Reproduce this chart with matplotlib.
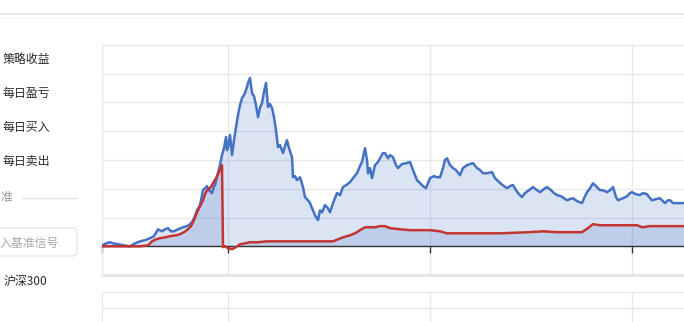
import matplotlib
matplotlib.use("Agg")
import matplotlib.pyplot as plt
from matplotlib.lines import Line2D
from matplotlib.patches import FancyBboxPatch
from matplotlib.transforms import IdentityTransform

plt.rcParams["font.family"] = ["Noto Sans CJK SC", "DejaVu Sans"]

# strategy return (%) by trading day
strat_days = [0, 4, 8, 11, 16, 22, 28, 33, 38, 43, 48, 52, 56, 60, 63, 66, 69, 72, 76, 81,
              85, 88, 90, 93, 95, 98, 101, 103, 105, 107, 110, 112, 113, 115, 118, 120, 122, 124, 125, 126,
              128, 130, 132, 134, 136, 138, 140, 142, 143, 145, 146, 148, 150, 152, 154, 156, 158, 160, 162, 164,
              166, 168, 170, 172, 174, 176, 178, 181, 183, 185, 187, 190, 191, 193, 195, 198, 201, 203, 206, 208,
              211, 213, 216, 218, 220, 223, 226, 228, 231, 235, 238, 241, 244, 248, 251, 255, 258, 260, 263, 265,
              266, 268, 270, 273, 276, 278, 281, 283, 286, 288, 291, 294, 296, 300, 304, 308, 311, 315, 318, 321,
              324, 328, 332, 335, 338, 341, 343, 345, 348, 351, 354, 358, 361, 365, 368, 371, 375, 378, 381, 385,
              390, 393, 395, 398, 402, 405, 408, 411, 414, 417, 420, 423, 427, 431, 435, 438, 442, 445, 449, 452,
              455, 459, 462, 465, 468, 471, 475, 478, 480, 483, 485, 488, 491, 494, 498, 501, 505, 508, 511, 514,
              516, 519, 521, 525, 528, 530, 534, 538, 541, 545, 548, 550, 554, 558, 561, 563, 566, 568, 571, 576,
              582]
strat_ret = [3, 10, 14, 10, 7, 3, 0, 10, 17, 21, 28, 35, 59, 52, 59, 63, 52, 52, 59, 66,
             70, 77, 84, 104, 125, 143, 195, 202, 209, 195, 185, 209, 212, 240, 282, 317, 341, 380, 334, 345,
             387, 317, 369, 414, 456, 491, 515, 526, 533, 554, 568, 585, 533, 522, 491, 449, 481, 498, 536, 568,
             484, 495, 481, 449, 404, 345, 352, 324, 348, 369, 341, 310, 240, 244, 230, 240, 206, 171, 160, 150,
             125, 108, 91, 125, 118, 143, 132, 118, 150, 185, 178, 206, 212, 223, 237, 254, 279, 293, 341, 300,
             254, 272, 237, 282, 293, 306, 324, 324, 306, 317, 310, 282, 272, 286, 289, 293, 265, 230, 220, 209,
             202, 237, 244, 240, 240, 272, 300, 306, 282, 272, 265, 247, 272, 282, 286, 289, 272, 265, 254, 254,
             258, 237, 230, 220, 209, 202, 209, 213, 195, 181, 171, 185, 195, 206, 195, 188, 199, 206, 195, 185,
             178, 174, 167, 160, 164, 167, 157, 153, 150, 174, 188, 202, 219, 209, 195, 195, 188, 195, 206, 171,
             160, 164, 167, 174, 185, 188, 181, 178, 185, 181, 167, 160, 164, 167, 157, 150, 160, 160, 150, 150,
             150]

# benchmark return (%) by trading day
bench_days = [0, 38, 46, 50, 54, 58, 63, 68, 74, 78, 82, 86, 89, 92, 95, 98, 101, 103, 105, 108,
              111, 114, 117, 119, 120, 121, 123, 126, 130, 134, 138, 143, 148, 156, 165, 178, 198, 218, 231, 236,
              241, 248, 253, 258, 263, 268, 273, 278, 283, 288, 298, 308, 318, 328, 338, 345, 358, 371, 398, 428,
              441, 455, 480, 486, 491, 498, 511, 523, 535, 540, 548, 582]
bench_ret = [0, 0, 3, 17, 24, 28, 31, 35, 38, 42, 49, 59, 70, 91, 118, 139, 160, 181, 195, 202,
             219, 237, 258, 275, 282, -3, 0, -7, -10, -3, 7, 10, 14, 14, 17, 17, 17, 17, 17, 24,
             31, 38, 45, 56, 66, 66, 66, 70, 70, 63, 59, 56, 56, 56, 52, 45, 45, 45, 45, 49,
             52, 49, 49, 63, 77, 73, 73, 73, 73, 66, 70, 70]

grid_days = [126, 328, 530]

W, H = 684, 322
fig = plt.figure(figsize=(W / 100, H / 100), dpi=100)


def fx(x):
    return x / W


def fy(y):
    return 1 - y / H


blue = "#4472c4"
red = "#c23531"
grid_c = "#e6e8eb"

# main chart panel
ax = fig.add_axes([fx(102), fy(275), fx(732), (275 - 45) / H])
ax.set_xlim(0, 732)
ax.set_ylim(-100, 700)
ax.fill_between(strat_days, 0, strat_ret, color=blue, alpha=0.19, lw=0, zorder=1)
ax.fill_between(bench_days, 0, bench_ret, color=blue, alpha=0.19, lw=0, zorder=1)
ax.plot(strat_days, strat_ret, color=blue, lw=1.8, zorder=4)
ax.plot(bench_days, bench_ret, color=red, lw=1.8, zorder=5)

ax.set_yticks(range(-100, 701, 100))
ax.set_xticks([0] + grid_days)
ax.grid(True, color=grid_c, lw=1, zorder=0)
ax.set_axisbelow(True)
ax.tick_params(axis="y", length=0, labelleft=False)
ax.tick_params(axis="x", length=5, width=1, color="#333333", labelbottom=False)
ax.spines["bottom"].set_position(("data", 0))
ax.spines["bottom"].set_color("#333333")
ax.spines["bottom"].set_linewidth(1)
ax.spines["bottom"].set_zorder(3)
ax.spines["top"].set_color(grid_c)
ax.spines["left"].set_color(grid_c)
ax.spines["right"].set_visible(False)
ax.axhline(-100, color="#e3e3e3", lw=2, clip_on=False, zorder=0)

# lower panel (cut off)
ax2 = fig.add_axes([fx(102), fy(292) - 48 / H, fx(732), 48 / H])
ax2.set_xlim(0, 732)
ax2.set_ylim(-2, 1)
ax2.set_yticks([0])
ax2.set_xticks(grid_days)
ax2.grid(True, color=grid_c, lw=1)
ax2.tick_params(length=0, labelleft=False, labelbottom=False)
for s in ["bottom", "right"]:
    ax2.spines[s].set_visible(False)
for s in ["top", "left"]:
    ax2.spines[s].set_color(grid_c)

# page separator at top
fig.add_artist(Line2D([0, 1], [fy(14), fy(14)], color="#e4e4e4", lw=1.5))
fig.add_artist(Line2D([0, 1], [fy(16.5), fy(16.5)], color="#f2f2f2", lw=1))

# left side labels
labels = ["策略收益", "每日盈亏", "每日买入", "每日卖出"]
label_y = [60, 93, 127, 161]
for t, y in zip(labels, label_y):
    fig.text(fx(3), fy(y), t, fontsize=8.6, color="#2b2b2b", ha="left", va="center")

fig.text(fx(0), fy(198), "准", fontsize=8.6, color="#999999", ha="left", va="center")
fig.add_artist(Line2D([fx(22), fx(77)], [fy(198), fy(198)], color="#e2e2e2", lw=1))

box = FancyBboxPatch((-6, H - 256), 83, 28, boxstyle="round,pad=0,rounding_size=4",
                     transform=IdentityTransform(), facecolor="white",
                     edgecolor="#dcdfe6", lw=0.8)
fig.add_artist(box)
fig.text(fx(0), fy(243), "入基准信号", fontsize=8.6, color="#aaaaaa", ha="left", va="center")
fig.text(fx(4), fy(281), "沪深300", fontsize=8.6, color="#2b2b2b", ha="left", va="center")

fig.savefig("out.png", dpi=100)
